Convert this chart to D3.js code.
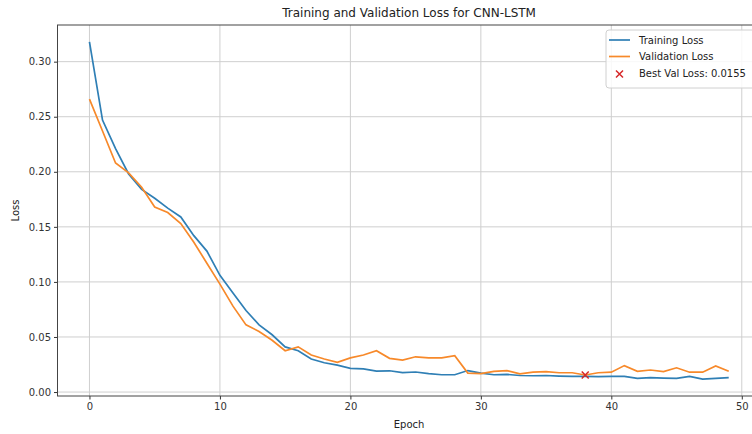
<!DOCTYPE html>
<html>
<head>
<meta charset="utf-8">
<script src="https://cdn.jsdelivr.net/npm/d3@7"></script>
<style>
  body { margin: 0; background: #fff; }
  svg { display: block; font-family: "DejaVu Sans", sans-serif; }
</style>
</head>
<body>
<svg id="chart" width="752" height="434"></svg>
<script>
// values
var epochs = d3.range(0, 50);
var trainLoss = [0.318, 0.247, 0.221, 0.198, 0.184, 0.176, 0.167, 0.159, 0.142, 0.128,
                 0.106, 0.090, 0.074, 0.061, 0.052, 0.041, 0.0375, 0.030, 0.0266, 0.0245,
                 0.0215, 0.021, 0.019, 0.0193, 0.0177, 0.0182, 0.0168, 0.0157, 0.0157, 0.0195,
                 0.0172, 0.0157, 0.016, 0.015, 0.0148, 0.015, 0.0145, 0.0142, 0.0142, 0.014,
                 0.0142, 0.0142, 0.0124, 0.013, 0.0127, 0.0124, 0.0142, 0.0118, 0.0124, 0.013];
var valLoss = [0.266, 0.237, 0.208, 0.199, 0.186, 0.168, 0.163, 0.153, 0.136, 0.117,
               0.098, 0.078, 0.061, 0.055, 0.047, 0.0375, 0.041, 0.0336, 0.030, 0.027,
               0.031, 0.0336, 0.0375, 0.0306, 0.029, 0.032, 0.031, 0.031, 0.033, 0.0172,
               0.0168, 0.0188, 0.0194, 0.0165, 0.018, 0.0185, 0.0175, 0.0175, 0.0155, 0.0175,
               0.018, 0.024, 0.0188, 0.020, 0.0185, 0.022, 0.018, 0.018, 0.0236, 0.0188];
var bestEpoch = 38, bestVal = 0.0155;
var xTicks = [0, 10, 20, 30, 40, 50];
var yTicks = [0.00, 0.05, 0.10, 0.15, 0.20, 0.25, 0.30];

var svg = d3.select("#chart");
var margin = {left: 57.5, top: 25, right: 760.7, bottom: 396};

var x = d3.scaleLinear().domain([-2.45, 51.45]).range([margin.left, margin.right]);
var y = d3.scaleLinear().domain([-0.0036, 0.3333]).range([margin.bottom, margin.top]);

var blue = "#2f7fb5", orange = "#f7892a";

// grid
svg.append("g").selectAll("line").data(xTicks).enter().append("line")
    .attr("x1", function(d) { return x(d); }).attr("x2", function(d) { return x(d); })
    .attr("y1", margin.top).attr("y2", margin.bottom)
    .attr("stroke", "#cfcfcf").attr("stroke-width", 1);
svg.append("g").selectAll("line").data(yTicks).enter().append("line")
    .attr("y1", function(d) { return y(d); }).attr("y2", function(d) { return y(d); })
    .attr("x1", margin.left).attr("x2", margin.right)
    .attr("stroke", "#cfcfcf").attr("stroke-width", 1);

// axes
var xAxis = d3.axisBottom(x).tickValues(xTicks).tickSize(3.5).tickPadding(3)
    .tickFormat(d3.format("d"));
var yAxis = d3.axisLeft(y).tickValues(yTicks).tickSize(3.5).tickPadding(3)
    .tickFormat(d3.format(".2f"));

var gx = svg.append("g").attr("transform", "translate(0," + margin.bottom + ")").call(xAxis);
var gy = svg.append("g").attr("transform", "translate(" + margin.left + ",0)").call(yAxis);
[gx, gy].forEach(function(g) {
    g.select(".domain").remove();
    g.selectAll(".tick line").attr("stroke", "#333");
    g.selectAll(".tick text").attr("fill", "#333").style("font-size", "10px")
        .style("font-family", "DejaVu Sans, sans-serif");
});

// spines
svg.append("rect")
    .attr("x", margin.left).attr("y", margin.top)
    .attr("width", margin.right - margin.left).attr("height", margin.bottom - margin.top)
    .attr("fill", "none").attr("stroke", "#444").attr("stroke-width", 1);

// lines
var line = function(vals) {
    return d3.line()
        .x(function(d, i) { return x(epochs[i]); })
        .y(function(d) { return y(d); })(vals);
};
svg.append("path").attr("d", line(trainLoss))
    .attr("fill", "none").attr("stroke", blue).attr("stroke-width", 1.7);
svg.append("path").attr("d", line(valLoss))
    .attr("fill", "none").attr("stroke", orange).attr("stroke-width", 1.7);

function cross(g, cx, cy, r) {
    g.append("path")
        .attr("d", "M" + (cx - r) + "," + (cy - r) + "L" + (cx + r) + "," + (cy + r) +
                   "M" + (cx - r) + "," + (cy + r) + "L" + (cx + r) + "," + (cy - r))
        .attr("stroke", "#d62728").attr("stroke-width", 1.5).attr("fill", "none");
}
cross(svg, x(bestEpoch), y(bestVal), 3.5);

// title and labels
svg.append("text").attr("x", (margin.left + margin.right) / 2).attr("y", 17)
    .attr("text-anchor", "middle").style("font-size", "12px").attr("fill", "#222")
    .text("Training and Validation Loss for CNN-LSTM");
svg.append("text").attr("x", (margin.left + margin.right) / 2).attr("y", 428)
    .attr("text-anchor", "middle").style("font-size", "10px").attr("fill", "#222")
    .text("Epoch");
svg.append("text").attr("transform", "translate(19," + ((margin.top + margin.bottom) / 2) + ") rotate(-90)")
    .attr("text-anchor", "middle").style("font-size", "10px").attr("fill", "#222")
    .text("Loss");

// legend
var lg = svg.append("g");
lg.append("rect").attr("x", 606).attr("y", 30).attr("width", 150).attr("height", 58)
    .attr("rx", 3).attr("fill", "#fff").attr("fill-opacity", 0.85)
    .attr("stroke", "#d0d0d0").attr("stroke-width", 1);
var items = [
    {label: "Training Loss", color: blue},
    {label: "Validation Loss", color: orange},
    {label: "Best Val Loss: " + bestVal, color: null}
];
items.forEach(function(it, i) {
    var cy = 40 + i * 16.5;
    if (it.color) {
        lg.append("line").attr("x1", 609).attr("x2", 630).attr("y1", cy).attr("y2", cy)
            .attr("stroke", it.color).attr("stroke-width", 1.7);
    } else {
        cross(lg, 619.5, cy + 1, 3.5);
    }
    lg.append("text").attr("x", 639).attr("y", cy + 3.6)
        .style("font-size", "10px").attr("fill", "#222").text(it.label);
});
</script>
</body>
</html>
